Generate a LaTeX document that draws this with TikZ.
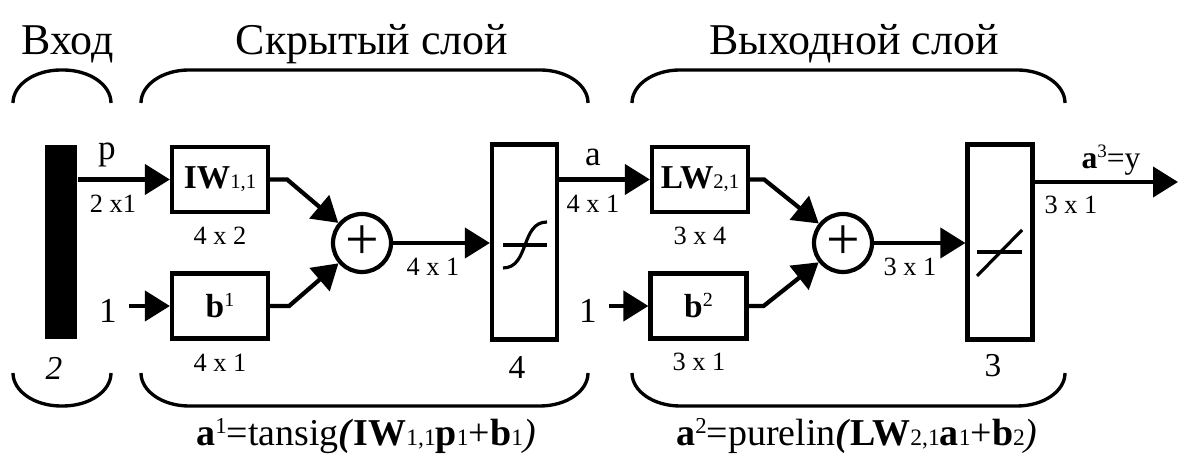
\documentclass[tikz,border=0pt]{standalone}
\usepackage{fontspec}
\setmainfont{Liberation Serif}
\usepackage{graphicx}
\usetikzlibrary{calc,arrows.meta}
\newcommand{\fsz}[1]{\fontsize{#1}{#1}\selectfont}
\newcommand{\lo}[1]{\scalebox{0.62}{#1}}
\newcommand{\hi}[1]{\raisebox{0.33em}{\scalebox{0.6}{#1}}}
\tikzset{
  ttl/.style ={font=\fsz{12.5}, anchor=base},
  grp/.style ={line width=0.95pt},
  blk/.style ={draw, line width=1.2pt, minimum width=0.96cm, minimum height=0.65cm,
               inner sep=0pt, font=\fsz{9.5}},
  tf/.style  ={draw, line width=1.2pt, minimum width=0.65cm, minimum height=1.95cm, inner sep=0pt},
  sum/.style ={draw, circle, line width=1.2pt, minimum size=0.58cm, inner sep=0pt, font=\fsz{17}},
  sig/.style ={-{Triangle[length=2.5mm,width=3mm]}, line width=1.2pt},
  fnl/.style ={line width=0.9pt},
  lab/.style ={font=\fsz{10}},
  dim/.style ={font=\fsz{7.5}},
  num/.style ={font=\fsz{9.5}},
  eqn/.style ={font=\fsz{10.8}, anchor=base},
}
\begin{document}
\begin{tikzpicture}
  \useasboundingbox (0,0) rectangle (11.78,4.54);

  % ---- titles ----
  \node[ttl] (tin)  at (0.68,3.99) {Вход};
  \node[ttl] (thid) at (3.72,3.99) {Скрытый слой};
  \node[ttl] (tout) at (8.54,3.99) {Выходной слой};

  % ---- group brackets ----
  \foreach \xa/\xb in {0.13/1.11, 1.41/5.88, 6.32/10.65}{
    \draw[grp] (\xa,3.51) arc[start angle=180, end angle=90, x radius=0.48, y radius=0.33]
               -- ($(\xb,3.84)-(0.48,0)$)
               arc[start angle=90, end angle=0, x radius=0.48, y radius=0.33];
    \draw[grp] (\xa,0.81) arc[start angle=180, end angle=270, x radius=0.48, y radius=0.33]
               -- ($(\xb,0.48)-(0.48,0)$)
               arc[start angle=270, end angle=360, x radius=0.48, y radius=0.33];
  }

  % ---- input ----
  \node[fill, minimum width=0.32cm, minimum height=1.94cm, inner sep=0pt] (inp) at (0.61,2.12) {};
  \node[font=\fsz{9.5}\itshape] (nin) at (0.54,0.86) {2};

  % ---- hidden layer ----
  \node[blk] (iw) at (2.20,2.745) {\textbf{IW}\lo{1,1}};
  \node[blk] (b1) at (2.20,1.48) {\textbf{b}\hi{1}};
  \node[lab] (one1) at (1.08,1.43) {1};
  \node[sum] (sum1) at (3.62,2.11) {+};
  \node[tf]  (ts) at (5.245,2.12) {};
  \draw[fnl] ([shift={(-0.215,-0.03)}]ts.center) -- ([shift={(0.225,-0.03)}]ts.center);
  \draw[fnl] ([shift={(-0.215,-0.26)}]ts.center) .. controls ([shift={(0.05,-0.26)}]ts.center)
             and ([shift={(-0.04,0.20)}]ts.center) .. ([shift={(0.225,0.20)}]ts.center);

  \draw[sig] (inp.east |- iw.west) -- (iw.west);
  \draw[sig] (one1.east |- b1.west) -- (b1.west);
  \draw[sig] (iw.east) -- ++(0.17,0) -- (sum1);
  \draw[sig] (b1.east) -- ++(0.19,0) -- (sum1);
  \draw[sig] (sum1.east) -- (ts.west |- sum1.east);

  \node[lab] (lp)  at (1.07,2.99) {p};
  \node[dim] (dp)  at (1.13,2.50) {2 x1};
  \node[dim] (diw) at (2.20,2.18) {4 x 2};
  \node[dim] (db1) at (2.20,0.91) {4 x 1};
  \node[dim] (ds1) at (4.33,1.87) {4 x 1};
  \node[num] (nts) at (5.17,0.86) {4};

  % ---- output layer ----
  \node[blk] (lw) at (7.00,2.745) {\textbf{LW}\lo{2,1}};
  \node[blk] (b2) at (6.985,1.48) {\textbf{b}\hi{2}};
  \node[lab] (one2) at (5.88,1.43) {1};
  \node[sum] (sum2) at (8.43,2.11) {+};
  \node[tf]  (ps) at (10.00,2.12) {};
  \draw[fnl] ([shift={(-0.23,-0.10)}]ps.center) -- ([shift={(0.22,-0.10)}]ps.center);
  \draw[fnl] ([shift={(-0.23,-0.34)}]ps.center) -- ([shift={(0.22,0.12)}]ps.center);
  \coordinate (yout) at (11.78,2.72);

  \draw[sig] (ts.east |- lw.west) -- (lw.west);
  \draw[sig] (one2.east |- b2.west) -- (b2.west);
  \draw[sig] (lw.east) -- ++(0.14,0) -- (sum2);
  \draw[sig] (b2.east) -- ++(0.15,0) -- (sum2);
  \draw[sig] (sum2.east) -- (ps.west |- sum2.east);
  \draw[sig] (ps.east |- yout) -- (yout);

  \node[lab] (la)  at (5.93,2.97) {a};
  \node[dim] (da)  at (5.93,2.50) {4 x 1};
  \node[dim] (dlw) at (7.00,2.18) {3 x 4};
  \node[dim] (db2) at (6.99,0.92) {3 x 1};
  \node[dim] (ds2) at (9.10,1.87) {3 x 1};
  \node[num] (nps) at (9.93,0.88) {3};
  \node[font=\fsz{9}] (ly) at (11.11,2.94) {\textbf{a}\hi{3}=y};
  \node[dim] (dy)  at (10.71,2.49) {3 x 1};

  % ---- layer equations ----
  \node[eqn] (e1) at (3.66,0.08)
    {\textbf{a}\hi{1}=tansig\textbf{\textit{(}}\textbf{IW}\lo{1,1}\textbf{p}\lo{1}+\textbf{b}\lo{1}\textit{)}};
  \node[eqn] (e2) at (8.57,0.08)
    {\textbf{a}\hi{2}=purelin\textbf{\textit{(}}\textbf{LW}\lo{2,1}\textbf{a}\lo{1}+\textbf{b}\lo{2}\textit{)}};

\end{tikzpicture}
\end{document}
